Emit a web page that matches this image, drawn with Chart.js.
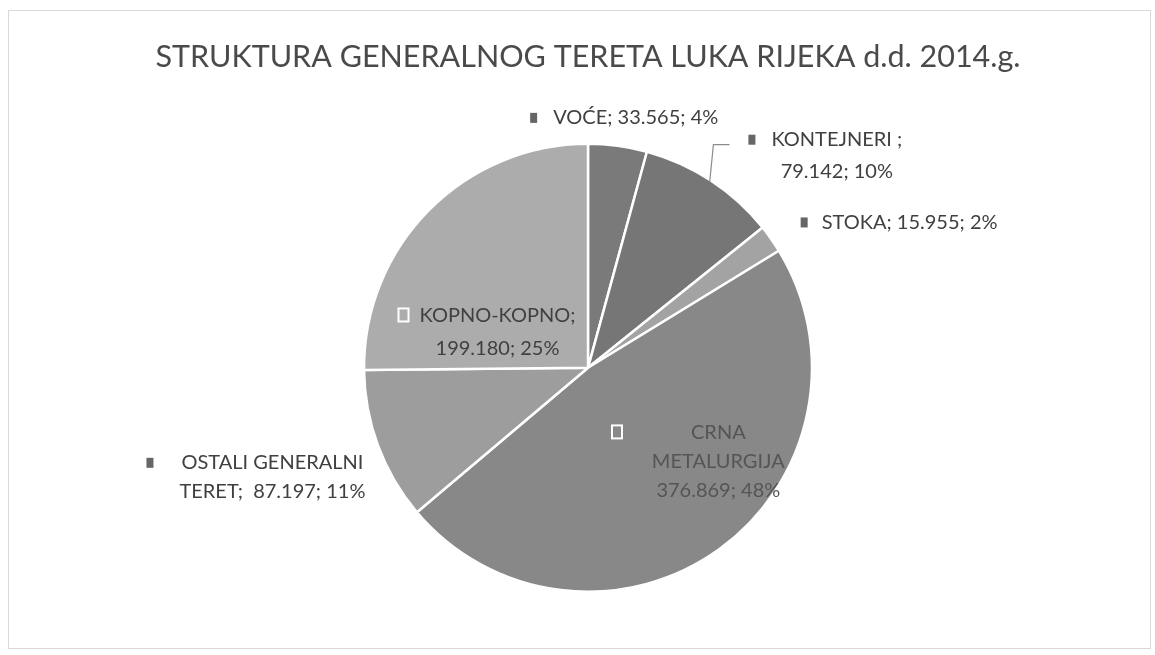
<!DOCTYPE html>
<html lang="hr">
<head>
  <meta charset="UTF-8">
  <title>Struktura generalnog tereta Luka Rijeka d.d. 2014.g.</title>
  <script src="https://cdn.jsdelivr.net/npm/chart.js"></script>
  <style>
    html, body { margin: 0; padding: 0; background: #fff; }
    #wrap { width: 1155px; height: 655px; }
  </style>
</head>
<body>
  <div id="wrap"><canvas id="grafikon" width="1155" height="655"></canvas></div>

  <script>
    // podaci (tone, 2014.)
    const kategorije = ["VOĆE", "KONTEJNERI", "STOKA", "CRNA METALURGIJA", "OSTALI GENERALNI TERET", "KOPNO-KOPNO"];
    const vrijednosti = [33565, 79142, 15955, 376869, 87197, 199180];
    const boje = ["#7a7a7a", "#767676", "#a3a3a3", "#888888", "#9d9d9d", "#acacac"];

    const ukupno = vrijednosti.reduce((a, b) => a + b, 0);
    function tisuce(v) {
      return String(v).replace(/\B(?=(\d{3})+(?!\d))/g, ".");
    }

    // raspored natpisa (u odnosu na sredinu pite, u polumjerima)
    const natpisi = [
      { dx: 0.213, dy: -1.116, lh: 32, gap: 20, lines: (n, v, p) => [n + "; " + v + "; " + p + "%"] },
      { dx: 1.111, dy: -0.947, lh: 32, gap: 20, leader: true, lines: (n, v, p) => [n + " ;", v + "; " + p + "%"] },
      { dx: 1.436, dy: -0.649, lh: 32, gap: 18, lines: (n, v, p) => [n + "; " + v + "; " + p + "%"] },
      { dx: 0.582, dy: 0.418, lh: 29, gap: 74, inside: true, color: "#555", lines: (n, v, p) => ["CRNA", "METALURGIJA", v + "; " + p + "%"] },
      { dx: -1.409, dy: 0.489, lh: 29, gap: 32, lines: (n, v, p) => ["OSTALI GENERALNI", "TERET;  " + v + "; " + p + "%"] },
      { dx: -0.404, dy: -0.160, lh: 33, gap: 16, inside: true, lines: (n, v, p) => [n + ";", v + "; " + p + "%"] }
    ];

    const okvir = {
      id: "okvir",
      beforeDraw(chart) {
        const ctx = chart.ctx;
        ctx.save();
        ctx.fillStyle = "#fff";
        ctx.fillRect(0, 0, chart.width, chart.height);
        ctx.strokeStyle = "#d9d9d9";
        ctx.lineWidth = 1;
        ctx.strokeRect(8.5, 10.5, chart.width - 13, chart.height - 17);
        ctx.restore();
      }
    };

    const oznake = {
      id: "oznake",
      afterDatasetsDraw(chart) {
        const ctx = chart.ctx;
        const meta = chart.getDatasetMeta(0);
        ctx.save();
        ctx.font = "20px Lato";
        ctx.textAlign = "center";
        ctx.textBaseline = "middle";
        meta.data.forEach((arc, i) => {
          const L = natpisi[i];
          const r = arc.outerRadius;
          const pct = Math.round(vrijednosti[i] / ukupno * 100);
          const lines = L.lines(kategorije[i], tisuce(vrijednosti[i]), pct);
          const x = arc.x + L.dx * r;
          const y0 = arc.y + L.dy * r - (lines.length - 1) * L.lh / 2;

          ctx.fillStyle = L.color || "#404040";
          lines.forEach((t, k) => ctx.fillText(t, x, y0 + k * L.lh));

          // mali kvadratić legende
          const w0 = ctx.measureText(lines[0]).width;
          const mx = x - w0 / 2 - L.gap;
          ctx.fillStyle = boje[i];
          if (L.inside) {
            ctx.fillRect(mx - 5, y0 - 7, 10, 13);
            ctx.strokeStyle = "#fff";
            ctx.lineWidth = 2;
            ctx.strokeRect(mx - 5, y0 - 7, 10, 13);
          } else {
            ctx.fillStyle = "#666";
            ctx.fillRect(mx - 3, y0 - 5, 7, 10);
          }

          if (L.leader) {
            const a = (arc.startAngle + arc.endAngle) / 2;
            const ex = arc.x + Math.cos(a) * (r - 2);
            const ey = arc.y + Math.sin(a) * (r - 2);
            ctx.strokeStyle = "#8c8c8c";
            ctx.lineWidth = 1.2;
            ctx.beginPath();
            ctx.moveTo(ex, ey);
            ctx.lineTo(mx - 38, y0 + 5);
            ctx.lineTo(mx - 22, y0 + 5);
            ctx.stroke();
          }
        });
        ctx.restore();
      }
    };

    new Chart(document.getElementById("grafikon"), {
      type: "pie",
      data: {
        labels: kategorije,
        datasets: [{
          data: vrijednosti,
          backgroundColor: boje,
          borderColor: "#ffffff",
          borderWidth: 2.5
        }]
      },
      options: {
        responsive: false,
        animation: false,
        layout: { padding: { left: 21, right: 0, top: 0, bottom: 62 } },
        plugins: {
          legend: { display: false },
          tooltip: { enabled: false },
          title: {
            display: true,
            text: "STRUKTURA GENERALNOG TERETA LUKA RIJEKA d.d. 2014.g.",
            color: "#4a4a4a",
            font: { family: "Lato", size: 30.5, weight: "normal" },
            padding: { top: 39, bottom: 67 }
          }
        }
      },
      plugins: [okvir, oznake]
    });
  </script>
</body>
</html>
